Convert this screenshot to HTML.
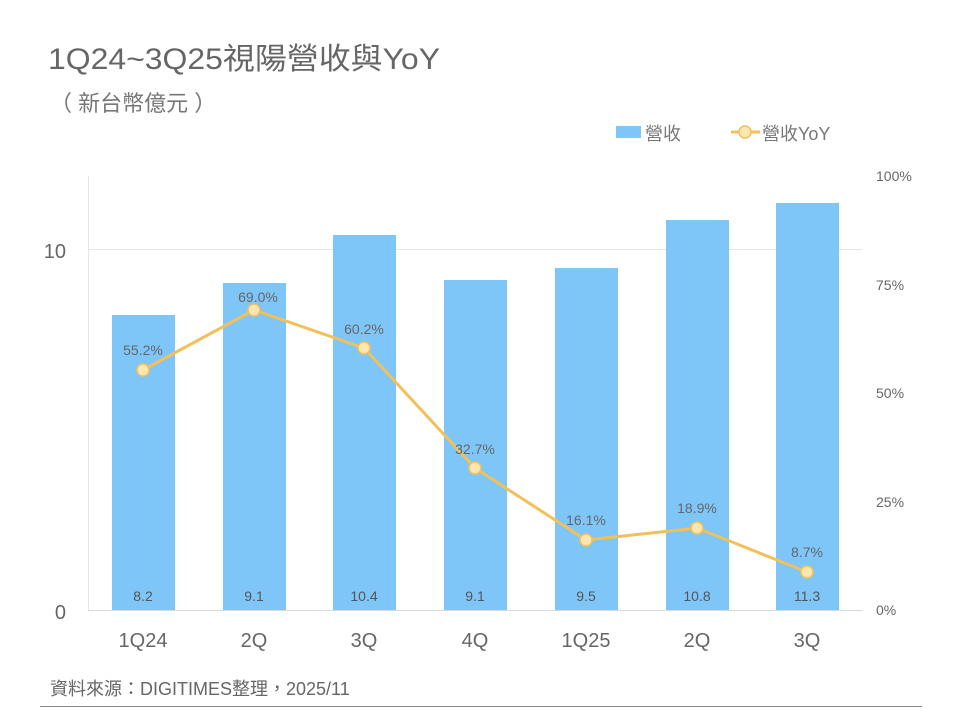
<!DOCTYPE html>
<html><head><meta charset="utf-8"><style>
body{margin:0;background:#fff;}
svg text{font-family:"Liberation Sans","Noto Sans CJK TC",sans-serif;}
</style></head><body>
<svg width="960" height="720" viewBox="0 0 960 720" xmlns="http://www.w3.org/2000/svg">
<rect width="960" height="720" fill="#fff"/>
<text x="48" y="69" font-size="30" fill="#666" textLength="392" lengthAdjust="spacingAndGlyphs">1Q24~3Q25視陽營收與YoY</text>
<text x="50" y="111" font-size="22" fill="#777">（ 新台幣億元 ）</text>
<rect x="616" y="126" width="25" height="12" fill="#7fc6f8"/>
<text x="645" y="140" font-size="18" fill="#777">營收</text>
<line x1="731" y1="132" x2="760" y2="132" stroke="#f2c05a" stroke-width="3"/>
<circle cx="745" cy="132" r="6" fill="#fde6b0" stroke="#f2c05a" stroke-width="1.5"/>
<text x="762" y="140" font-size="18" fill="#777">營收YoY</text>
<line x1="88.5" y1="176" x2="88.5" y2="610" stroke="#e6e6e6"/>
<line x1="88" y1="249.5" x2="862" y2="249.5" stroke="#e6e6e6"/>
<line x1="88" y1="610.5" x2="862" y2="610.5" stroke="#d9d9d9"/>
<text x="66" y="258" font-size="20" fill="#666" text-anchor="end">10</text>
<text x="66" y="619" font-size="20" fill="#666" text-anchor="end">0</text>
<g font-size="14" fill="#666">
<text x="876" y="181">100%</text><text x="876" y="290">75%</text><text x="876" y="398">50%</text><text x="876" y="507">25%</text><text x="876" y="615">0%</text>
</g>
<g fill="#7fc6f8">
<rect x="112" y="315" width="63" height="295"/>
<rect x="223" y="283" width="63" height="327"/>
<rect x="333" y="235" width="63" height="375"/>
<rect x="444" y="280" width="63" height="330"/>
<rect x="555" y="268" width="63" height="342"/>
<rect x="666" y="220" width="63" height="390"/>
<rect x="776" y="203" width="63" height="407"/>
</g>
<g font-size="14" fill="#555" text-anchor="middle">
<text x="143" y="601">8.2</text><text x="254" y="601">9.1</text><text x="364" y="601">10.4</text><text x="475" y="601">9.1</text><text x="586" y="601">9.5</text><text x="697" y="601">10.8</text><text x="807" y="601">11.3</text>
</g>
<polyline points="143,370 254,310 364,348 475,468 586,540 697,528 807,572" fill="none" stroke="#f2c05a" stroke-width="3"/>
<g fill="#fde6b0" stroke="#f2c05a" stroke-width="1.5">
<circle cx="143" cy="370" r="6"/><circle cx="254" cy="310" r="6"/><circle cx="364" cy="348" r="6"/><circle cx="475" cy="468" r="6"/><circle cx="586" cy="540" r="6"/><circle cx="697" cy="528" r="6"/><circle cx="807" cy="572" r="6"/>
</g>
<g font-size="14" fill="#666" text-anchor="middle">
<text x="143" y="355">55.2%</text><text x="258" y="302">69.0%</text><text x="364" y="334">60.2%</text><text x="475" y="454">32.7%</text><text x="586" y="525">16.1%</text><text x="697" y="513">18.9%</text><text x="807" y="557">8.7%</text>
</g>
<g font-size="20" fill="#666" text-anchor="middle">
<text x="143" y="647">1Q24</text><text x="254" y="647">2Q</text><text x="364" y="647">3Q</text><text x="475" y="647">4Q</text><text x="586" y="647">1Q25</text><text x="697" y="647">2Q</text><text x="807" y="647">3Q</text>
</g>
<text x="50" y="695" font-size="18" fill="#666">資料來源：DIGITIMES整理，2025/11</text>
<line x1="40" y1="706.5" x2="922" y2="706.5" stroke="#888"/>
</svg>
</body></html>
